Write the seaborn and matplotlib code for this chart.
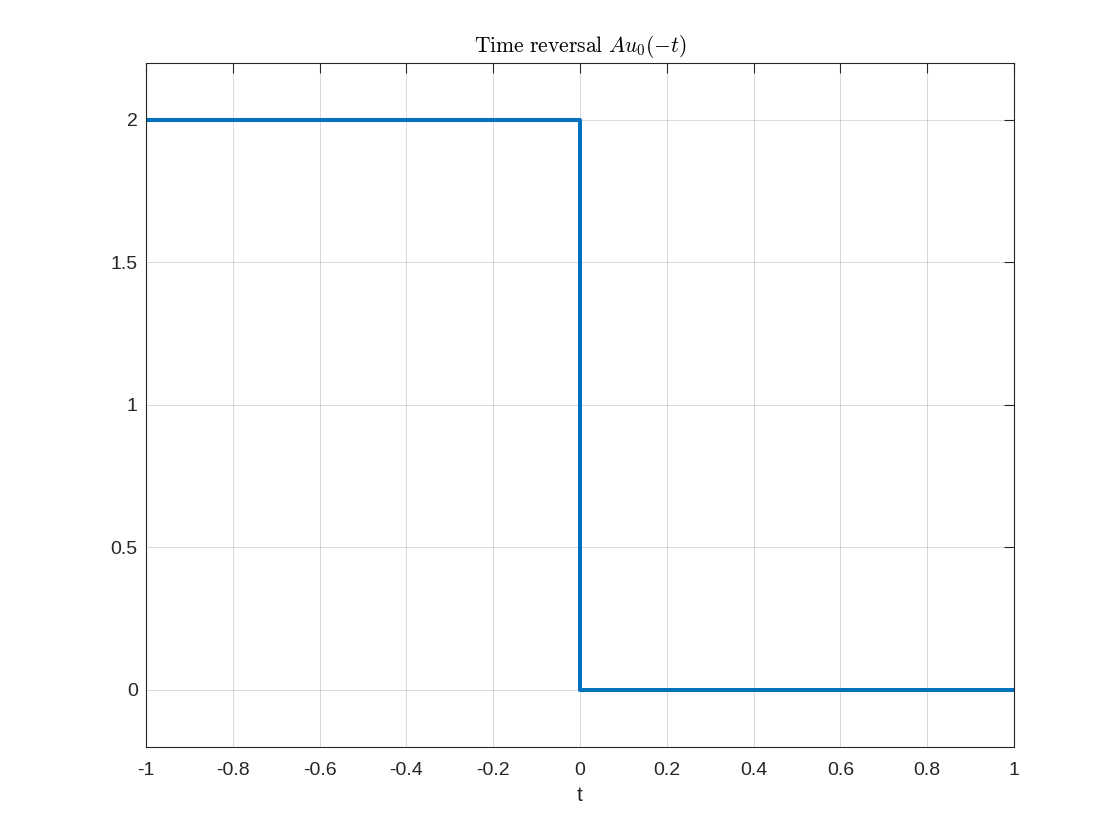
import numpy as np
import pandas as pd
import matplotlib.pyplot as plt
import seaborn as sns

# step data: u0(-t) scaled by A=2
t = [-1.0, 0.0, 1.0]
y = [2.0, 0.0, 0.0]
xticks = [-1, -0.8, -0.6, -0.4, -0.2, 0, 0.2, 0.4, 0.6, 0.8, 1]
xticklabels = ['-1', '-0.8', '-0.6', '-0.4', '-0.2', '0', '0.2', '0.4', '0.6', '0.8', '1']
yticks = [0, 0.5, 1, 1.5, 2]
yticklabels = ['0', '0.5', '1', '1.5', '2']

df = pd.DataFrame({'t': t, 'y': y})

sns.set_style('white')
plt.rcParams['font.family'] = ['Liberation Sans', 'DejaVu Sans']
plt.rcParams['mathtext.fontset'] = 'cm'

fig = plt.figure(figsize=(11.2, 8.4), dpi=100)
ax = fig.add_axes([0.1304, 0.111, 0.7750, 0.814])

sns.lineplot(data=df, x='t', y='y', ax=ax, color='#0072BD', linewidth=2.9,
             drawstyle='steps-post', estimator=None, sort=False)

ax.set_xlim(-1, 1)
ax.set_ylim(-0.2, 2.2)
ax.set_xticks(xticks)
ax.set_xticklabels(xticklabels)
ax.set_yticks(yticks)
ax.set_yticklabels(yticklabels)
ax.grid(True, color='#000000', alpha=0.15, linewidth=0.7)
ax.tick_params(direction='in', length=7, width=0.8, colors='#262626',
               labelsize=14, top=True, right=True)
ax.tick_params(axis='x', pad=11)
ax.tick_params(axis='y', pad=6)
for s in ax.spines.values():
    s.set_color('#262626')
    s.set_linewidth(0.8)

ax.set_xlabel('t', fontsize=15, color='#262626', labelpad=5)
ax.set_ylabel('')
ax.set_title(r'$\mathrm{Time\ reversal}\ Au_0(-t)$', fontsize=15.5, color='#000000', pad=8)

fig.savefig('out.png', dpi=100)
